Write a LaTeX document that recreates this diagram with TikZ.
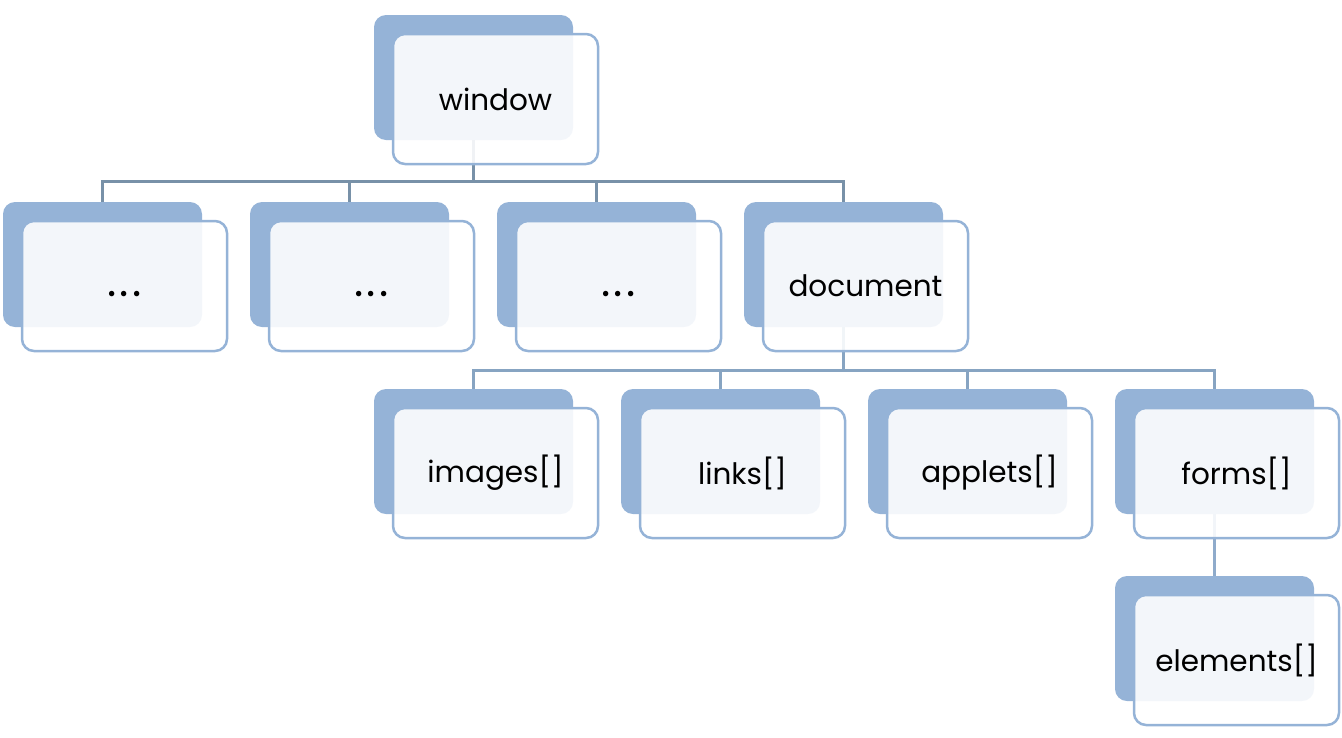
\documentclass[tikz,border=0pt]{standalone}
\usepackage{fontspec}
\setmainfont{Poppins}
\definecolor{backblue}{HTML}{95B3D7}
\definecolor{conA}{HTML}{7891A8}
\definecolor{conB}{HTML}{87A4C2}
\definecolor{conC}{HTML}{8FABCB}
\tikzset{
  backbox/.style={rectangle, rounded corners=12pt, fill=backblue, minimum width=199pt, minimum height=125pt, inner sep=0pt},
  frontbox/.style={rectangle, rounded corners=12pt, fill=white, fill opacity=0.89, text opacity=1, draw=backblue, line width=2.5pt, minimum width=205pt, minimum height=130pt, inner sep=0pt, font=\fontsize{29.5}{34}\selectfont},
  conn/.style={line width=3pt},
}
\newcommand{\backnode}[3]{\node[backbox] (#1b) at (#2+99.5,#3+62.5) {};}
\newcommand{\frontnode}[4]{\node[frontbox] (#1) at (#2+121.5,#3+84) {#4};}
\newcommand{\mydots}{\vphantom{document}{\fontsize{44}{44}\selectfont .\hspace{3pt}.\hspace{3pt}.}}
\begin{document}
\begin{tikzpicture}[x=1pt,y=-1pt]
\useasboundingbox (0,0) rectangle (1342,737);
% back boxes
\backnode{win}{374}{15}
\backnode{da}{3}{202}
\backnode{db}{250}{202}
\backnode{dc}{497}{202}
\backnode{doc}{744}{202}
\backnode{img}{374}{389}
\backnode{lnk}{621}{389}
\backnode{app}{868}{389}
\backnode{frm}{1115}{389}
\backnode{elm}{1115}{576}
% connectors
\coordinate (barA) at (473.5,181.5);
\coordinate (barB) at (843.5,370);
\draw[conn, conA] (winb.south) -- (winb.south |- barA);
\foreach \c in {da,db,dc,doc} \draw[conn, conA] (winb.south |- barA) -| (\c b.north);
\draw[conn, conB] (docb.south) -- (docb.south |- barB);
\foreach \c in {img,lnk,app,frm} \draw[conn, conB] (docb.south |- barB) -| (\c b.north);
\draw[conn, conC] (frmb.south) -- (elmb.north);
% front boxes
\frontnode{win}{374}{15}{window}
\frontnode{da}{3}{202}{\mydots}
\frontnode{db}{250}{202}{\mydots}
\frontnode{dc}{497}{202}{\mydots}
\frontnode{doc}{744}{202}{document}
\frontnode{img}{374}{389}{images[]}
\frontnode{lnk}{621}{389}{links[]}
\frontnode{app}{868}{389}{applets[]}
\frontnode{frm}{1115}{389}{forms[]}
\frontnode{elm}{1115}{576}{elements[]}
\end{tikzpicture}
\end{document}
